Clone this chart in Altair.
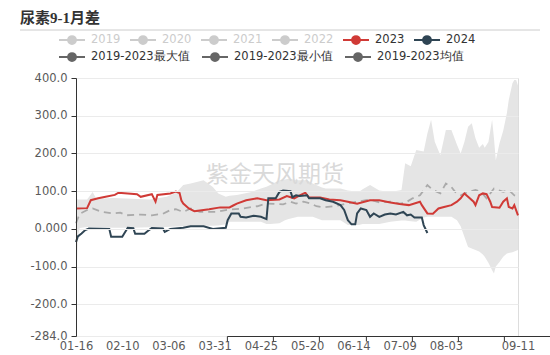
import altair as alt
import pandas as pd

TITLE = "尿素9-1月差"
WATERMARK = "紫金天风期货"

legend_years = ["2019", "2020", "2021", "2022", "2023", "2024"]
legend_year_colors = ["#cccccc", "#cccccc", "#cccccc", "#cccccc", "#d03a36", "#2f4554"]
legend_stats = ["2019-2023最大值", "2019-2023最小值", "2019-2023均值"]
legend_stat_colors = ["#666666", "#666666", "#666666"]

x_tick_labels = ["01-16", "02-10", "03-06", "03-31", "04-25", "05-20", "06-14", "07-09", "08-03", "09-11"]
y_tick_values = [400, 300, 200, 100, 0, -100, -200, -284]
Y_MIN, Y_MAX = -284, 400

# 2023 series
dates_2023 = ["01-16", "01-22", "01-24", "01-28", "02-01", "02-06", "02-08", "02-18", "02-20", "02-26",
              "02-28", "02-29", "03-07", "03-10", "03-12", "03-13", "03-14", "03-17", "03-20", "03-23",
              "03-28", "04-03", "04-08", "04-10", "04-12", "04-17", "04-23", "04-28", "05-05", "05-09",
              "05-13", "05-16", "05-19", "05-21", "05-27", "06-01", "06-07", "06-11", "06-16", "06-23",
              "06-28", "07-04", "07-09", "07-14", "07-20", "07-21", "07-24", "07-27", "07-30", "08-02",
              "08-06", "08-09", "08-11", "08-13", "08-15", "08-18", "08-19", "08-21", "08-23", "08-25",
              "08-27", "08-28", "09-01", "09-03", "09-05", "09-06", "09-08", "09-09", "09-11"]
values_2023 = [54, 55, 76, 81, 85, 90, 96, 92, 85, 92,
               72, 90, 94, 99, 95, 75, 67, 54, 47, 49,
               52, 57, 57, 62, 67, 76, 81, 76, 78, 87,
               81, 89, 96, 83, 83, 78, 76, 72, 67, 76,
               76, 70, 66, 63, 72, 63, 41, 40, 54, 58,
               63, 72, 81, 94, 85, 72, 63, 89, 94, 92,
               72, 58, 56, 72, 81, 58, 54, 63, 36]

# 2024 series
dates_2024 = ["01-16", "01-17", "01-19", "01-21", "01-23", "02-03", "02-04", "02-10", "02-11", "02-13",
              "02-16", "02-17", "02-22", "02-24", "02-26", "03-03", "03-04", "03-07", "03-14", "03-18",
              "03-25", "03-30", "04-06", "04-07", "04-09", "04-13", "04-14", "04-17", "04-21", "04-25",
              "04-28", "04-29", "05-03", "05-05", "05-07", "05-11", "05-12", "05-14", "05-16", "05-20",
              "05-21", "05-27", "05-30", "06-03", "06-07", "06-09", "06-11", "06-13", "06-15", "06-16",
              "06-18", "06-21", "06-23", "06-25", "06-28", "07-01", "07-04", "07-07", "07-11", "07-13",
              "07-15", "07-17", "07-21", "07-22", "07-24"]
values_2024 = [-35, -20, -12, -3, 1, 0, -21, -21, -13, 3,
               2, -13, -13, -5, 2, 1, -8, 0, 3, 7,
               7, 0, 3, 23, 41, 41, 32, 30, 35, 32,
               26, 81, 81, 98, 102, 100, 84, 89, 87, 89,
               81, 81, 76, 72, 63, 50, 23, 12, 12, 41,
               54, 50, 32, 41, 32, 38, 41, 38, 45, 36,
               38, 30, 30, 10, -11]

# 2019-2023 mean
dates_mean = ["01-16", "01-18", "01-22", "01-25", "01-30", "02-05", "02-09", "02-12", "02-20", "02-26",
              "03-03", "03-07", "03-10", "03-14", "03-18", "03-23", "04-01", "04-06", "04-15", "04-23",
              "04-28", "05-07", "05-11", "05-14", "05-18", "05-22", "05-25", "05-29", "06-03", "06-07",
              "06-10", "06-16", "06-23", "06-28", "07-04", "07-09", "07-12", "07-16", "07-20", "07-24",
              "07-27", "07-31", "08-03", "08-06", "08-08", "08-11", "08-15", "08-19", "08-22", "08-25",
              "08-29", "09-03", "09-06", "09-09", "09-11"]
values_mean = [15, 40, 50, 54, 45, 41, 43, 36, 38, 36,
               40, 50, 52, 45, 54, 45, 45, 50, 54, 60,
               67, 65, 72, 67, 72, 67, 60, 57, 60, 63,
               67, 72, 78, 70, 72, 67, 69, 81, 89, 116,
               103, 94, 120, 111, 98, 89, 98, 103, 98, 81,
               107, 98, 103, 89, 85]

# 2019-2023 max / min band
dates_band = ["01-16", "01-17", "01-18", "01-22", "01-25", "01-27", "02-05", "02-15", "02-25", "03-05",
              "03-10", "03-14", "03-18", "03-25", "03-30", "04-02", "04-06", "04-08", "04-12", "04-20",
              "04-25", "04-28", "04-30", "05-05", "05-08", "05-10", "05-15", "05-20", "05-23", "05-28",
              "05-30", "06-07", "06-11", "06-17", "06-19", "06-23", "06-28", "07-04", "07-10", "07-12",
              "07-15", "07-18", "07-22", "07-24", "07-26", "07-28", "07-31", "08-03", "08-06", "08-09",
              "08-11", "08-13", "08-15", "08-17", "08-19", "08-21", "08-23", "08-24", "08-26", "08-28",
              "08-29", "08-30", "09-01", "09-03", "09-05", "09-06", "09-08", "09-09", "09-10", "09-11"]
values_max = [80, 78, 78, 78, 98, 80, 82, 80, 78, 85,
              95, 116, 120, 129, 111, 94, 85, 88, 90, 98,
              107, 112, 116, 129, 131, 133, 129, 129, 120, 110,
              107, 107, 102, 98, 105, 116, 102, 98, 103, 174,
              166, 209, 205, 253, 289, 231, 195, 262, 262, 223,
              200, 230, 271, 280, 240, 215, 225, 215, 230, 289,
              240, 182, 227, 260, 307, 342, 386, 395, 395, 380]
values_min = [-175, -20, 2, 5, 5, 4, 3, 3, 4, 5,
              6, 7, 8, 8, 8, 9, 12, 19, 19, 19,
              19, 13, 13, 15, 23, 26, 32, 32, 32, 23,
              23, 23, 10, 10, 13, 13, 13, 19, 22, 22,
              20, 19, 30, 32, 32, 32, 32, 32, 32, 23,
              7, -21, -48, -52, -56, -60, -68, -74, -90, -110,
              -118, -100, -88, -74, -65, -64, -62, -60, -58, -56]

YEAR = "2024"
W, H = 442, 258
ZERO_POS = H * Y_MAX / (Y_MAX - Y_MIN)
FONT = "DejaVu Sans"


def full_date(d):
    return YEAR + "-" + d


def dt(d):
    return alt.DateTime(year=int(YEAR), month=int(d[:2]), date=int(d[3:]), utc=True)


band_df = pd.DataFrame({"date": [full_date(d) for d in dates_band], "max": values_max, "min": values_min})
mean_df = pd.DataFrame({"date": [full_date(d) for d in dates_mean], "value": values_mean})
lines_df = pd.concat([
    pd.DataFrame({"date": [full_date(d) for d in dates_2023], "value": values_2023, "line": "2023"}),
    pd.DataFrame({"date": [full_date(d) for d in dates_2024], "value": values_2024, "line": "2024"}),
])

x_scale = alt.Scale(type="utc", domain=[dt(x_tick_labels[0]), dt(x_tick_labels[-1])])
y_scale = alt.Scale(domain=[Y_MIN, Y_MAX], nice=False, zero=False)
tick_vals = [dt(t) for t in x_tick_labels]

y_axis = alt.Axis(
    values=y_tick_values,
    labelExpr="datum.value == 0 ? '0.000' : (datum.value < 0 ? '-' : '') + format(abs(datum.value), '.1f')",
    grid=True, gridColor="#ebebeb", domainColor="#333333", tickColor="#333333", tickSize=5,
    labelFont=FONT, labelFontSize=11.5, labelColor="#5a5a5a", labelPadding=4, title=None, zindex=1,
)
x_label_axis = alt.Axis(
    orient="bottom", values=tick_vals, format="%m-%d", domain=False, ticks=False, grid=False,
    labelFont=FONT, labelFontSize=11.5, labelColor="#5a5a5a", labelPadding=4, title=None,
    labelOverlap=False, labelFlush=False,
)
x_zero_axis = alt.Axis(
    orient="bottom", position=ZERO_POS, values=tick_vals, labels=False, grid=False,
    domain=True, domainColor="#333333", domainWidth=1, ticks=True, tickColor="#333333", tickSize=5,
    title=None, zindex=1,
)

band = alt.Chart(band_df).mark_area(color="#e5e5e5", opacity=1).encode(
    x=alt.X("date:T", scale=x_scale, axis=x_label_axis),
    y=alt.Y("max:Q", scale=y_scale, axis=y_axis),
    y2="min:Q",
)

mean = alt.Chart(mean_df).mark_line(color="#aaaaaa", strokeDash=[7, 5], strokeWidth=1.8).encode(
    x=alt.X("date:T", scale=x_scale, axis=x_zero_axis),
    y=alt.Y("value:Q", scale=y_scale, axis=y_axis),
)

lines = alt.Chart(lines_df).mark_line(strokeWidth=2).encode(
    x=alt.X("date:T", scale=x_scale, axis=None),
    y=alt.Y("value:Q", scale=y_scale, axis=y_axis),
    color=alt.Color("line:N", scale=alt.Scale(domain=["2023", "2024"], range=["#d03a36", "#2f4554"]), legend=None),
)

SYMBOL = "M-1,0L1,0M-0.3,0A0.3,0.3,0,1,1,0.3,0A0.3,0.3,0,1,1,-0.3,0Z"


def make_legend(lx, ly, label_color, pad):
    return alt.Legend(
        orient="none", legendX=lx, legendY=ly, direction="horizontal", title=None,
        symbolType=SYMBOL, symbolSize=676, symbolStrokeWidth=2, symbolOpacity=1,
        labelFont=FONT, labelFontSize=11.5, labelColor=label_color, labelOffset=5,
        columnPadding=pad, labelLimit=400, padding=0,
    )


leg1_def = make_legend(-18, -52, alt.ExprRef(
    "indexof(['2019','2020','2021','2022'], datum.label) >= 0 ? '#cccccc' : '#333333'"), 5)
leg1 = alt.Chart(alt.Data(values=[])).mark_point(filled=True, opacity=1).encode(
    fill=alt.Fill("series:N", scale=alt.Scale(domain=legend_years, range=legend_year_colors), legend=leg1_def),
    stroke=alt.Stroke("series:N", scale=alt.Scale(domain=legend_years, range=legend_year_colors), legend=leg1_def),
)

leg2_def = make_legend(-18, -35, "#333333", 8)
leg2 = alt.Chart(alt.Data(values=[])).mark_point(filled=True, opacity=1).encode(
    fill=alt.Fill("stat:N", scale=alt.Scale(domain=legend_stats, range=legend_stat_colors), legend=leg2_def),
    stroke=alt.Stroke("stat:N", scale=alt.Scale(domain=legend_stats, range=legend_stat_colors), legend=leg2_def),
)

text_df = pd.DataFrame({"title": [TITLE], "wm": [WATERMARK]})
watermark = alt.Chart(text_df).mark_text(
    font="Noto Sans CJK SC", fontSize=23, color="#d9d9d9", align="center", baseline="middle"
).encode(text="wm:N", x=alt.value(199), y=alt.value(97))

title = alt.Chart(text_df).mark_text(
    font="Liberation Serif, Noto Sans CJK SC", fontSize=15, fontWeight="bold", color="#333333",
    align="left", baseline="alphabetic"
).encode(text="title:N", x=alt.value(-56), y=alt.value(-55))

title_rule = alt.Chart(text_df).mark_rule(color="#cccccc", strokeWidth=1).encode(
    x=alt.value(-56), x2=alt.value(464), y=alt.value(-48)
)

chart = alt.layer(band, watermark, mean, lines, leg1, leg2, title, title_rule).resolve_scale(
    fill="independent", stroke="independent"
).resolve_axis(x="independent").properties(
    width=W, height=H,
    autosize=alt.AutoSizeParams(type="none"),
    padding={"left": 76, "top": 78, "right": 32, "bottom": 19},
).configure_view(stroke="#e3e3e3", strokeWidth=1).configure(background="white")

chart.save("out.html", embed_options={"renderer": "svg", "actions": False})
